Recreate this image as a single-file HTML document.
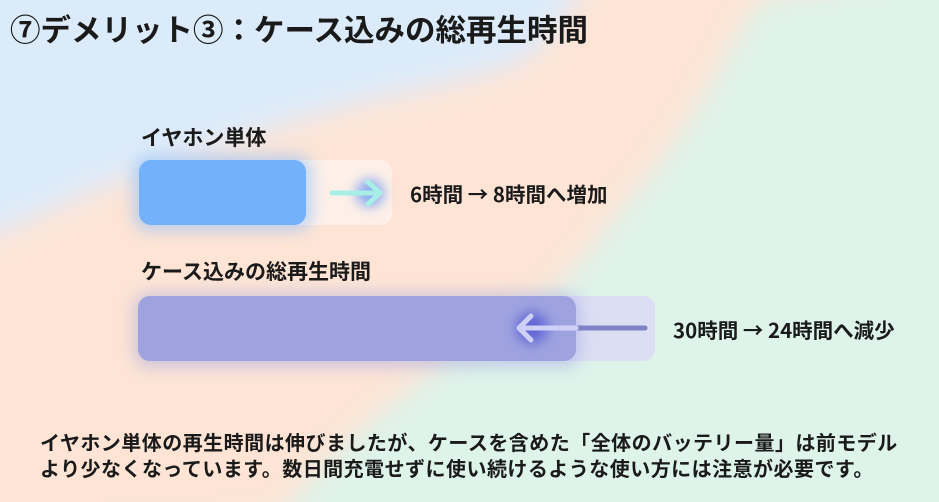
<!DOCTYPE html>
<html><head><meta charset="utf-8"><style>
html,body{margin:0;padding:0;width:939px;height:502px;overflow:hidden}
body{position:relative;font-family:"Noto Sans CJK JP","Liberation Sans",sans-serif;font-weight:bold;color:#1a1a1a}
.t{position:absolute;white-space:nowrap;line-height:1}
</style></head><body>
<svg width="939" height="502" style="position:absolute;left:0;top:0;display:block">
<defs>
<filter id="bl" x="-20%" y="-20%" width="140%" height="140%"><feGaussianBlur stdDeviation="14"/></filter>
<filter id="g1" x="-50%" y="-50%" width="200%" height="200%"><feGaussianBlur stdDeviation="8"/></filter>
<filter id="g2" x="-100%" y="-100%" width="300%" height="300%"><feGaussianBlur stdDeviation="6"/></filter>
</defs>
<rect width="939" height="502" fill="#def3ea"/>
<g filter="url(#bl)">
<path d="M-40,-40 L1000,-40 L760,0 C720,60 700,120 629,200 C590,250 560,290 539,300 C480,340 440,360 419,383 C360,430 320,460 281,520 L-40,540 Z" fill="#fde4d5"/>
<path d="M-40,-40 L600,-40 L575,0 C550,40 530,60 509,67 C450,85 400,95 371,100 C320,115 280,125 240,140 C180,160 130,175 90,193 C50,210 20,225 0,233 L-40,240 Z" fill="#dcebfa"/>
</g>
<rect x="139" y="160" width="253" height="65" rx="12" fill="#ffffff" opacity="0.45"/>
<rect x="134" y="156" width="177" height="74" rx="14" fill="#7ab8ff" opacity="0.55" filter="url(#g1)"/>
<rect x="139" y="160" width="167" height="65" rx="12" fill="#74b1fb"/>
<ellipse cx="370" cy="193" rx="14" ry="14" fill="#3b7cf5" opacity="0.6" filter="url(#g2)"/>
<line x1="332" y1="193" x2="378" y2="193" stroke="#a7efe6" stroke-width="5" stroke-linecap="round"/>
<polyline points="368,182 380,193 368,204" fill="none" stroke="#a7efe6" stroke-width="5" stroke-linecap="round" stroke-linejoin="round"/>
<rect x="138" y="296" width="517" height="65" rx="12" fill="#dcdbf5" opacity="0.85"/>
<rect x="134" y="293" width="446" height="74" rx="14" fill="#9ea3e2" opacity="0.5" filter="url(#g1)"/>
<rect x="138" y="296" width="438" height="65" rx="12" fill="#9ea3e0"/>
<ellipse cx="532" cy="328" rx="16" ry="16" fill="#4a4fcf" opacity="0.7" filter="url(#g2)"/>
<line x1="576" y1="328" x2="645" y2="328" stroke="#7d83c6" stroke-width="5" stroke-linecap="round"/>
<line x1="520" y1="328" x2="576" y2="328" stroke="#cfd0f7" stroke-width="5" stroke-linecap="round"/>
<polyline points="531,316 519,328 531,340" fill="none" stroke="#cfd0f7" stroke-width="5" stroke-linecap="round" stroke-linejoin="round"/>
</svg>
<div class="t" style="left:10px;top:13px;font-size:30.5px">⑦デメリット③：ケース込みの総再生時間</div>
<div class="t" style="left:141px;top:127px;font-size:21px">イヤホン単体</div>
<div class="t" style="left:410px;top:183px;font-size:20.5px">6時間 → 8時間へ増加</div>
<div class="t" style="left:141px;top:261px;font-size:21px">ケース込みの総再生時間</div>
<div class="t" style="left:673px;top:319px;font-size:20.5px">30時間 → 24時間へ減少</div>
<div class="t" style="left:40px;top:432px;font-size:20px;letter-spacing:0.47px">イヤホン単体の再生時間は伸びましたが、ケースを含めた「全体のバッテリー量」は前モデル</div>
<div class="t" style="left:40px;top:458px;font-size:20px;letter-spacing:0.47px">より少なくなっています。数日間充電せずに使い続けるような使い方には注意が必要です。</div>
</body></html>
